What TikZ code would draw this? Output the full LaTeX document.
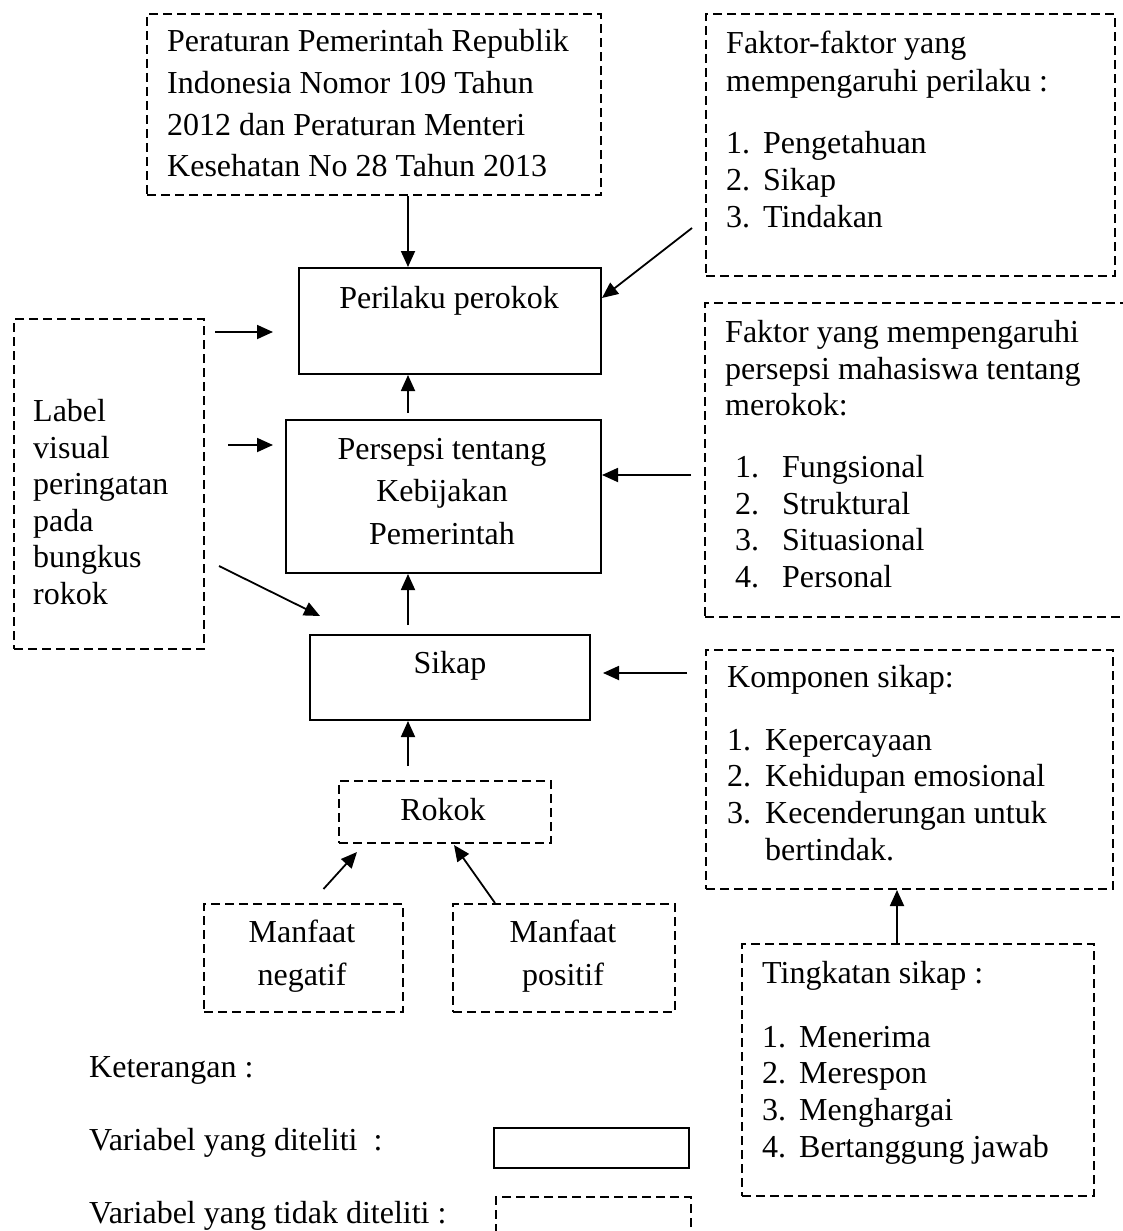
\documentclass[tikz,border=0pt]{standalone}
\usepackage{fontspec}
\setmainfont{Liberation Serif}
\usepackage{tikz}
\usetikzlibrary{arrows.meta,calc,positioning}
\definecolor{ink}{HTML}{000000}
\definecolor{paper}{HTML}{FFFFFF}
\newcommand{\listno}[3][37pt]{\makebox[#1][l]{#2}#3}
\tikzset{
  varbox/.style={draw=ink,line width=2pt,inner sep=0pt,anchor=north west},
  ghostbox/.style={varbox,dash pattern=on 9pt off 5pt},
  arr/.style={-{Triangle[length=16pt,width=14pt]},line width=1.8pt,color=ink},
  body/.style={inner sep=0pt,color=ink,anchor=north west,align=left},
  caption/.style={inner sep=0pt,color=ink}
}

\begin{document}
\begin{tikzpicture}[x=1pt,y=-1pt,font=\fontsize{32}{37}\selectfont]
  \useasboundingbox (0,0) rectangle (1122,1231);
  \fill[paper] (0,0) rectangle (1122,1231);

  % kotak
  \node[ghostbox,minimum width=454pt,minimum height=181pt] (regulasi) at (146,13) {};
  \node[ghostbox,minimum width=409pt,minimum height=262pt] (faktor) at (705,13) {};
  \node[varbox,minimum width=302pt,minimum height=106pt] (perilaku) at (298,267) {};
  \node[ghostbox,minimum width=190pt,minimum height=330pt] (label) at (13,318) {};
  \node[ghostbox,minimum width=426pt,minimum height=314pt] (fpersepsi) at (704,302) {};
  \node[varbox,minimum width=315pt,minimum height=153pt] (persepsi) at (285,419) {};
  \node[varbox,minimum width=280pt,minimum height=85pt] (sikap) at (309,634) {};
  \node[ghostbox,minimum width=407pt,minimum height=239pt] (komponen) at (705,649) {};
  \node[ghostbox,minimum width=212pt,minimum height=62pt] (rokok) at (338,780) {};
  \node[ghostbox,minimum width=199pt,minimum height=108pt] (negatif) at (203,903) {};
  \node[ghostbox,minimum width=222pt,minimum height=108pt] (positif) at (452,903) {};
  \node[ghostbox,minimum width=352pt,minimum height=252pt] (tingkatan) at (741,943) {};
  \node[varbox,minimum width=195pt,minimum height=40pt] (diteliti) at (493,1127) {};
  \node[ghostbox,minimum width=195pt,minimum height=45pt] (tdkditeliti) at (495,1196) {};

  % teks
  \node[body,font=\fontsize{32}{41.8}\selectfont] (regulasitxt) at (167,29)
    {Peraturan Pemerintah Republik\\Indonesia Nomor 109 Tahun\\2012 dan Peraturan Menteri\\Kesehatan No 28 Tahun 2013};
  \node[body,font=\fontsize{32}{37.3}\selectfont] (faktortxt) at (726,31)
    {Faktor-faktor yang\\mempengaruhi perilaku :\\[25pt]\listno{1.}{Pengetahuan}\\\listno{2.}{Sikap}\\\listno{3.}{Tindakan}};
  \node[caption,anchor=base] (perilakutxt) at (449,308) {Perilaku perokok};
  \node[body,font=\fontsize{32}{36.6}\selectfont] (labeltxt) at (33,399)
    {Label\\visual\\peringatan\\pada\\bungkus\\rokok};
  \node[body,font=\fontsize{32}{36.7}\selectfont] (fpersepsitxt) at (725,320)
    {Faktor yang mempengaruhi\\persepsi mahasiswa tentang\\merokok:\\[25pt]%
     \hspace*{10pt}\listno[47pt]{1.}{Fungsional}\\\hspace*{10pt}\listno[47pt]{2.}{Struktural}\\%
     \hspace*{10pt}\listno[47pt]{3.}{Situasional}\\\hspace*{10pt}\listno[47pt]{4.}{Personal}};
  \node[caption,anchor=north,align=center,font=\fontsize{32}{42.5}\selectfont] (persepsitxt) at (442,438)
    {Persepsi tentang\\Kebijakan\\Pemerintah};
  \node[caption,anchor=base] (sikaptxt) at (450,673) {Sikap};
  \node[body,font=\fontsize{32}{36.7}\selectfont] (komponentxt) at (727,665)
    {Komponen sikap:\\[26pt]\listno[38pt]{1.}{Kepercayaan}\\\listno[38pt]{2.}{Kehidupan emosional}\\%
     \listno[38pt]{3.}{Kecenderungan untuk}\\\hspace*{38pt}bertindak.};
  \node[caption,anchor=base] (rokoktxt) at (443,820) {Rokok};
  \node[caption,anchor=north,align=center,font=\fontsize{32}{43}\selectfont] (negatiftxt) at (302,920) {Manfaat\\negatif};
  \node[caption,anchor=north,align=center,font=\fontsize{32}{43}\selectfont] (positiftxt) at (563,920) {Manfaat\\positif};
  \node[body,font=\fontsize{32}{36.7}\selectfont] (tingkatantxt) at (762,961)
    {Tingkatan sikap :\\[27pt]\listno{1.}{Menerima}\\\listno{2.}{Merespon}\\\listno{3.}{Menghargai}\\\listno{4.}{Bertanggung jawab}};

  % keterangan
  \node[caption,anchor=base west] (ket) at (89,1077) {Keterangan :};
  \node[caption,anchor=base west] (ketditeliti) at (89,1150) {Variabel yang diteliti\ \ :};
  \node[caption,anchor=base west] (kettdk) at (89,1223) {Variabel yang tidak diteliti :};

  % panah
  \coordinate (spine) at (408,0);
  \coordinate (faktortail) at (692,228);
  \draw[arr] (regulasi.south -| spine) -- (perilaku.north -| spine);
  \draw[arr,shorten <=6pt] (persepsi.north -| spine) -- (perilaku.south -| spine);
  \draw[arr,shorten <=9pt] (sikap.north -| spine) -- (persepsi.south -| spine);
  \draw[arr,shorten <=14pt] (rokok.north -| spine) -- (sikap.south -| spine);
  \draw[arr] (faktortail) -- (perilaku.east |- 0,298);
  \draw[arr,shorten <=13pt] (fpersepsi.west |- 0,475) -- (persepsi.east |- 0,475);
  \draw[arr,shorten <=18pt,shorten >=12pt] (komponen.west |- 0,673) -- (sikap.east |- 0,673);
  \draw[arr] (tingkatan.north -| 897,0) -- (komponen.south -| 897,0);
  \draw[arr,shorten <=10pt,shorten >=25pt] (label.east |- 0,332) -- (perilaku.west |- 0,332);
  \draw[arr,shorten <=23pt,shorten >=12pt] (label.east |- 0,445) -- (persepsi.west |- 0,445);
  \draw[arr] ($(label.east |- 0,566)+(14,0)$) -- ($(sikap.north west)+(11,-18)$);
  \draw[arr] ($(negatif.north)+(20,-14)$) -- ($(rokok.south west)+(19,8)$);
  \draw[arr] ($(positif.north west)+(43,0)$) -- ($(rokok.south west)+(116,1)$);
\end{tikzpicture}
\end{document}
